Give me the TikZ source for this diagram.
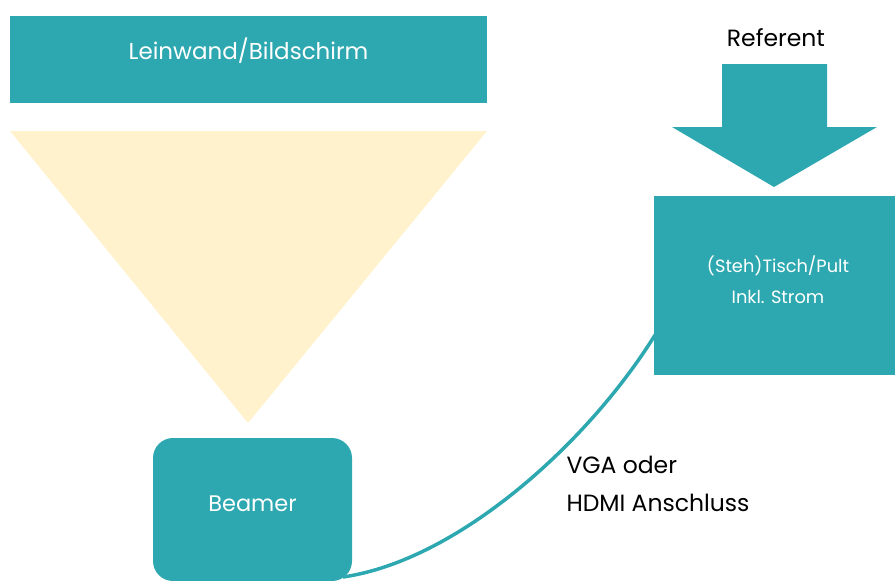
\documentclass[tikz,border=0pt]{standalone}
\usepackage{fontspec}
\setmainfont{Poppins}
\definecolor{teal}{HTML}{2EA8B0}
\definecolor{cream}{HTML}{FFF2CC}
\begin{document}
\begin{tikzpicture}[x=1pt,y=-1pt,
  wtxt/.style={text=white,font=\fontsize{23}{28}\selectfont},
  lbl/.style={text=black,font=\fontsize{23.5}{28}\selectfont}]
\useasboundingbox (0,0) rectangle (895,581);
\begin{scope}
\clip (0,0) rectangle (895,581);
% screen
\fill[teal] (10,16) rectangle (487,103);
\node[wtxt] (screen) at (248.5,51) {Leinwand/Bildschirm};
% projection cone
\fill[cream] (10,131) -- (487,131) -- (248,423) -- cycle;
% beamer
\fill[teal,rounded corners=20pt] (153,438) rectangle (352,581);
\node[wtxt,font=\fontsize{22.5}{28}\selectfont] (beamer) at (252.5,504) {Beamer};
\coordinate (bout) at (343,577);
% table
\fill[teal] (654,196) rectangle (895,375);
\node[text=white,font=\fontsize{17.8}{31}\selectfont,align=center] (tisch) at (778,280) {(Steh)Tisch/Pult\\Inkl. Strom};
\coordinate (tin) at (655,335);
% arrow
\fill[teal] (722,64) -- (827,64) -- (827,127) -- (877,127) -- (774,187) -- (672,127) -- (722,127) -- cycle;
\node[lbl] (ref) at (776,38) {Referent};
% cable
\draw[teal,line width=3.5pt] (bout) .. controls (460,560) and (590,440) .. (tin);
\node[lbl,anchor=west,align=left,font=\fontsize{23.5}{38}\selectfont] (cable) at (563,484) {VGA oder\\HDMI Anschluss};
\end{scope}
\end{tikzpicture}
\end{document}
